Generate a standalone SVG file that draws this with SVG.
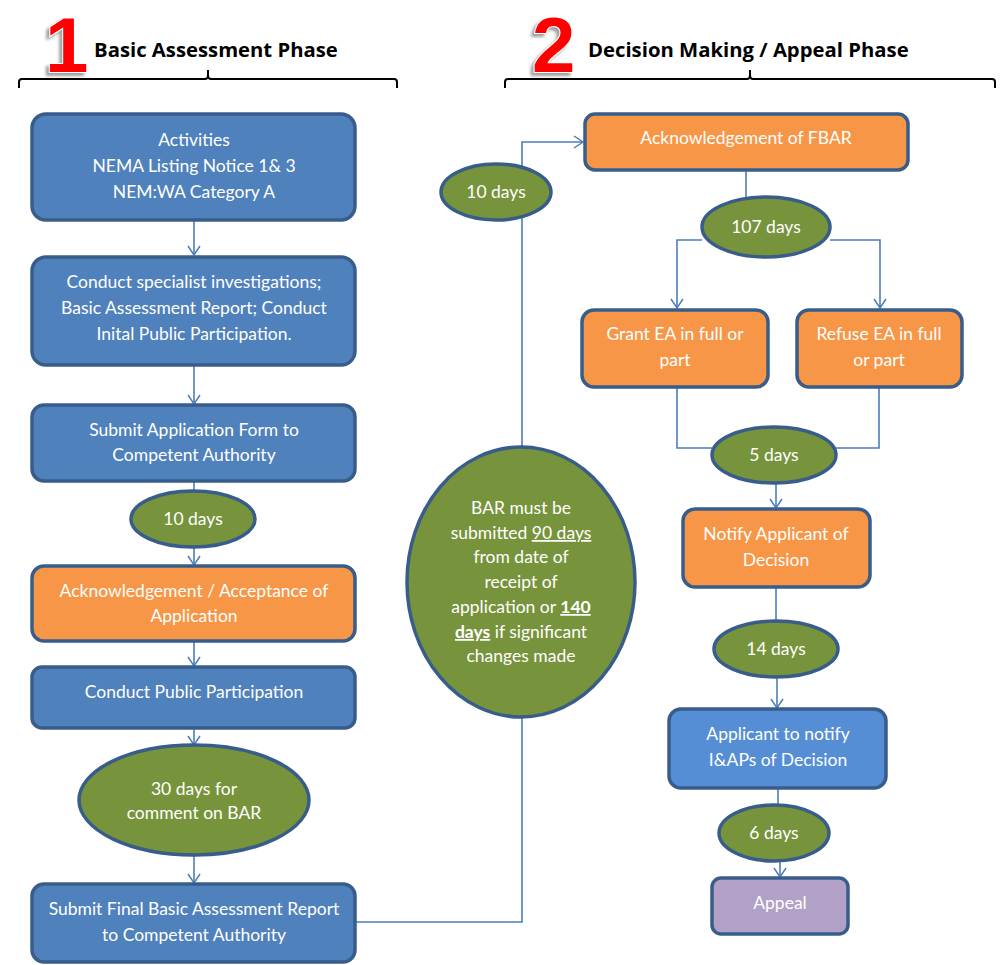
<svg xmlns="http://www.w3.org/2000/svg" width="1000" height="965" viewBox="0 0 1000 965">
<defs>
<style>
.blue{fill:#4f81bd;stroke:#385d8a;stroke-width:3.5}
.lblue{fill:#558ed5;stroke:#385d8a;stroke-width:3.5}
.orange{fill:#f79646;stroke:#385d8a;stroke-width:3.5}
.green{fill:#77933c;stroke:#385d8a;stroke-width:3.5}
.purple{fill:#b2a1c7;stroke:#385d8a;stroke-width:3.5}
.t{font-family:Lato,"Liberation Sans",sans-serif;font-size:17.5px;fill:#fff;text-anchor:middle}
.h{font-family:"Open Sans","Liberation Sans",sans-serif;font-size:20.3px;font-weight:bold;fill:#000}
.num{font-family:"Liberation Sans",sans-serif;font-size:78px;font-weight:bold;fill:#ff0000;stroke:#fff;stroke-width:2;paint-order:stroke}
.c{fill:none;stroke:#4a7ebb;stroke-width:1.6}
.brace{fill:none;stroke:#000;stroke-width:2}
</style>
<marker id="ar" markerWidth="12" markerHeight="14" refX="10" refY="7" orient="auto" markerUnits="userSpaceOnUse">
<polyline points="1,1 10,7 1,13" fill="none" stroke="#4a7ebb" stroke-width="1.5"/>
</marker>
<filter id="sh" x="-20%" y="-20%" width="150%" height="150%">
<feDropShadow dx="-3" dy="3" stdDeviation="1.5" flood-color="#888" flood-opacity="0.8"/>
</filter>
</defs>

<g id="headers">
<text class="num" x="45" y="72" filter="url(#sh)">1</text>
<text class="h" x="94" y="57">Basic Assessment Phase</text>
<path class="brace" d="M19,88 V82 Q19,79 22,79 H205 Q208,79 208,75 V70 M208,75 Q208,79 211,79 H394 Q397,79 397,82 V88"/>
<text class="num" x="532" y="72" filter="url(#sh)">2</text>
<text class="h" x="588" y="57">Decision Making / Appeal Phase</text>
<path class="brace" d="M505,88 V82 Q505,79 508,79 H747 Q750,79 750,75 V70 M750,75 Q750,79 753,79 H992 Q995,79 995,82 V88"/>
</g>

<g id="connectors">
<line class="c" x1="194" y1="220" x2="194" y2="255" marker-end="url(#ar)"/>
<line class="c" x1="194" y1="365" x2="194" y2="404" marker-end="url(#ar)"/>
<line class="c" x1="194" y1="481" x2="194" y2="491"/>
<line class="c" x1="194" y1="547" x2="194" y2="565" marker-end="url(#ar)"/>
<line class="c" x1="194" y1="641" x2="194" y2="666" marker-end="url(#ar)"/>
<line class="c" x1="194" y1="728" x2="194" y2="745" marker-end="url(#ar)"/>
<line class="c" x1="194" y1="855" x2="194" y2="883" marker-end="url(#ar)"/>
<polyline class="c" points="355,922 522,922 522,142 583,142" marker-end="url(#ar)"/>
<line class="c" x1="746" y1="170" x2="746" y2="198"/>
<polyline class="c" points="702,240 677,240 677,308" marker-end="url(#ar)"/>
<polyline class="c" points="830,240 880,240 880,308" marker-end="url(#ar)"/>
<polyline class="c" points="677,387 677,448 712,448"/>
<polyline class="c" points="879,387 879,448 836,448"/>
<line class="c" x1="776" y1="483" x2="776" y2="508" marker-end="url(#ar)"/>
<line class="c" x1="776" y1="587" x2="776" y2="621"/>
<line class="c" x1="777" y1="677" x2="777" y2="708" marker-end="url(#ar)"/>
<line class="c" x1="778" y1="788" x2="778" y2="805"/>
<line class="c" x1="780" y1="861" x2="780" y2="877" marker-end="url(#ar)"/>
</g>

<g id="activities">
<rect class="blue" x="32" y="114" width="323" height="106" rx="14"/>
<text class="t" x="194" y="146">Activities</text>
<text class="t" x="194" y="172">NEMA Listing Notice 1&amp; 3</text>
<text class="t" x="194" y="198">NEM:WA Category A</text>
</g>
<g id="specialist">
<rect class="blue" x="32" y="257" width="323" height="108" rx="14"/>
<text class="t" x="194" y="288">Conduct specialist investigations;</text>
<text class="t" x="194" y="314">Basic Assessment Report; Conduct</text>
<text class="t" x="194" y="340">Inital Public Participation.</text>
</g>
<g id="submit-app">
<rect class="blue" x="32" y="405" width="323" height="76" rx="12"/>
<text class="t" x="194" y="436">Submit Application Form to</text>
<text class="t" x="194" y="461">Competent Authority</text>
</g>
<g id="days10a">
<ellipse class="green" cx="193" cy="519" rx="62" ry="28"/>
<text class="t" x="193" y="525">10 days</text>
</g>
<g id="ack-app">
<rect class="orange" x="32" y="566" width="323" height="75" rx="12"/>
<text class="t" x="194" y="597">Acknowledgement / Acceptance of</text>
<text class="t" x="194" y="622">Application</text>
</g>
<g id="public">
<rect class="blue" x="32" y="667" width="323" height="61" rx="10"/>
<text class="t" x="194" y="698">Conduct Public Participation</text>
</g>
<g id="days30">
<ellipse class="green" cx="194" cy="800" rx="115" ry="55"/>
<text class="t" x="194" y="795">30 days for</text>
<text class="t" x="194" y="819">comment on BAR</text>
</g>
<g id="submit-final">
<rect class="blue" x="32" y="884" width="323" height="78" rx="12"/>
<text class="t" x="194" y="915">Submit Final Basic Assessment Report</text>
<text class="t" x="194" y="941">to Competent Authority</text>
</g>
<g id="days10b">
<ellipse class="green" cx="496" cy="192" rx="55" ry="28"/>
<text class="t" x="496" y="198">10 days</text>
</g>
<g id="bar">
<ellipse class="green" cx="521" cy="582" rx="114" ry="135"/>
<text class="t" x="521" y="514">BAR must be</text>
<text class="t" x="521" y="539">submitted <tspan text-decoration="underline">90 days</tspan></text>
<text class="t" x="521" y="563">from date of</text>
<text class="t" x="521" y="588">receipt of</text>
<text class="t" x="521" y="613">application or <tspan font-weight="bold" text-decoration="underline">140</tspan></text>
<text class="t" x="521" y="638"><tspan font-weight="bold" text-decoration="underline">days</tspan> if significant</text>
<text class="t" x="521" y="662">changes made</text>
</g>
<g id="ack-fbar">
<rect class="orange" x="585" y="114" width="323" height="56" rx="10"/>
<text class="t" x="746" y="144">Acknowledgement of FBAR</text>
</g>
<g id="days107">
<ellipse class="green" cx="766" cy="227" rx="64" ry="30"/>
<text class="t" x="766" y="233">107 days</text>
</g>
<g id="grant">
<rect class="orange" x="582" y="310" width="186" height="77" rx="12"/>
<text class="t" x="675" y="340">Grant EA in full or</text>
<text class="t" x="675" y="366">part</text>
</g>
<g id="refuse">
<rect class="orange" x="797" y="310" width="165" height="77" rx="12"/>
<text class="t" x="879" y="340">Refuse EA in full</text>
<text class="t" x="879" y="366">or part</text>
</g>
<g id="days5">
<ellipse class="green" cx="774" cy="455" rx="62" ry="28"/>
<text class="t" x="774" y="461">5 days</text>
</g>
<g id="notify">
<rect class="orange" x="683" y="509" width="187" height="78" rx="12"/>
<text class="t" x="776" y="540">Notify Applicant of</text>
<text class="t" x="776" y="566">Decision</text>
</g>
<g id="days14">
<ellipse class="green" cx="776" cy="649" rx="62" ry="28"/>
<text class="t" x="776" y="655">14 days</text>
</g>
<g id="iaps">
<rect class="lblue" x="669" y="709" width="217" height="79" rx="12"/>
<text class="t" x="778" y="740">Applicant to notify</text>
<text class="t" x="778" y="766">I&amp;APs of Decision</text>
</g>
<g id="days6">
<ellipse class="green" cx="774" cy="833" rx="55" ry="28"/>
<text class="t" x="774" y="839">6 days</text>
</g>
<g id="appeal">
<rect class="purple" x="712" y="878" width="136" height="56" rx="9"/>
<text class="t" x="780" y="909">Appeal</text>
</g>
</svg>
